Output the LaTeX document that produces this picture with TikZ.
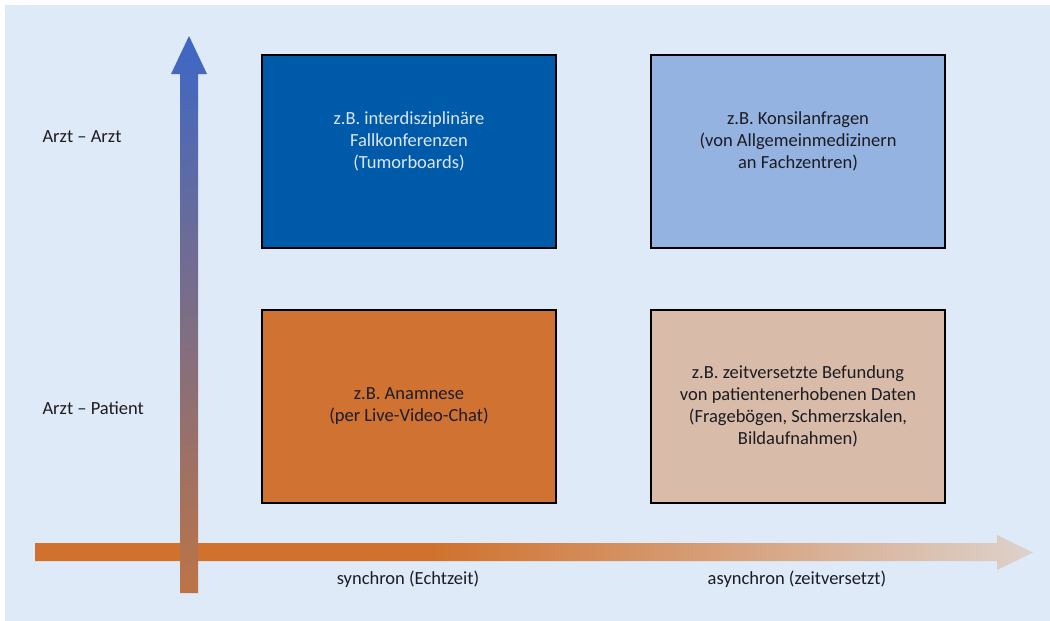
\documentclass[tikz,border=0pt]{standalone}
\usepackage{fontspec}
\setmainfont{Carlito}
\usetikzlibrary{positioning,calc}

\definecolor{bgblue}{HTML}{DEEAF7}
\definecolor{boxdark}{HTML}{005AAA}
\definecolor{boxlight}{HTML}{95B3E1}
\definecolor{boxorange}{HTML}{CF7232}
\definecolor{boxsand}{HTML}{D8BBA8}
\definecolor{arrowblue}{HTML}{3D67C6}
\definecolor{arrowbrown}{HTML}{BC7446}
\definecolor{arroworange}{HTML}{D0722E}
\definecolor{arrowpale}{HTML}{DDD2CC}
\definecolor{lighttext}{HTML}{DCE6F2}
\definecolor{darktext}{HTML}{1C1C22}

\pgfdeclarehorizontalshading{timefade}{100bp}{color(0bp)=(arroworange); color(25bp)=(arroworange); color(45bp)=(arroworange); color(75bp)=(arrowpale); color(100bp)=(arrowpale)}

\tikzset{
  quadbox/.style={draw=black, line width=2.6pt, minimum width=294pt, minimum height=193pt, inner sep=0pt},
  quadtext/.style={align=center, text=darktext, font=\fontsize{18.5}{22}\selectfont},
  axislabel/.style={text=darktext, font=\fontsize{18.5}{22}\selectfont}
}

\begin{document}
\begin{tikzpicture}[x=1pt,y=-1pt]
                % Background
                \fill[white] (0,0) rectangle (1050,621);
                \fill[bgblue] (5,5) rectangle (1050,621);

                % Time axis (horizontal arrow)
                \shade[shading=timefade] (35,543) -- (997,543) -- (997,535) -- (1033,552.5)
                    -- (997,570) -- (997,561) -- (35,561) -- cycle;

                % Communication axis (vertical arrow)
                \shade[top color=arrowblue, bottom color=arrowbrown] (180,593) -- (180,74) -- (171,74)
                    -- (189,36) -- (207,74) -- (198,74) -- (198,593) -- cycle;

                % Axis labels
                \node[axislabel, anchor=west] (arztarzt) at (39,137) {Arzt – Arzt};
                \node[axislabel, anchor=west] (arztpatient) at (39,408) {Arzt – Patient};
                \node[axislabel] (synchron) at (408,579) {synchron (Echtzeit)};
                \node[axislabel] (asynchron) at (797,579) {asynchron (zeitversetzt)};

                % Quadrants
                \node[quadbox, fill=boxdark] (fallkonf) at (409,151.5) {};
                \node[quadtext, text=lighttext] (fallkonftext) at ($(fallkonf)+(0,-10)$)
                    {z.B. interdisziplinäre\\Fallkonferenzen\\(Tumorboards)};

                \node[quadbox, fill=boxlight] (konsil) at (798,151.5) {};
                \node[quadtext] (konsiltext) at ($(konsil)+(0,-10)$)
                    {z.B. Konsilanfragen\\(von Allgemeinmedizinern\\an Fachzentren)};

                \node[quadbox, fill=boxorange] (anamnese) at (409,406.5) {};
                \node[quadtext] (anamnesetext) at (anamnese)
                    {z.B. Anamnese\\(per Live-Video-Chat)};

                \node[quadbox, fill=boxsand] (befundung) at (798,406.5) {};
                \node[quadtext] (befundungtext) at (befundung)
                    {z.B. zeitversetzte Befundung\\von patientenerhobenen Daten\\(Fragebögen, Schmerzskalen,\\Bildaufnahmen)};
\end{tikzpicture}
\end{document}
